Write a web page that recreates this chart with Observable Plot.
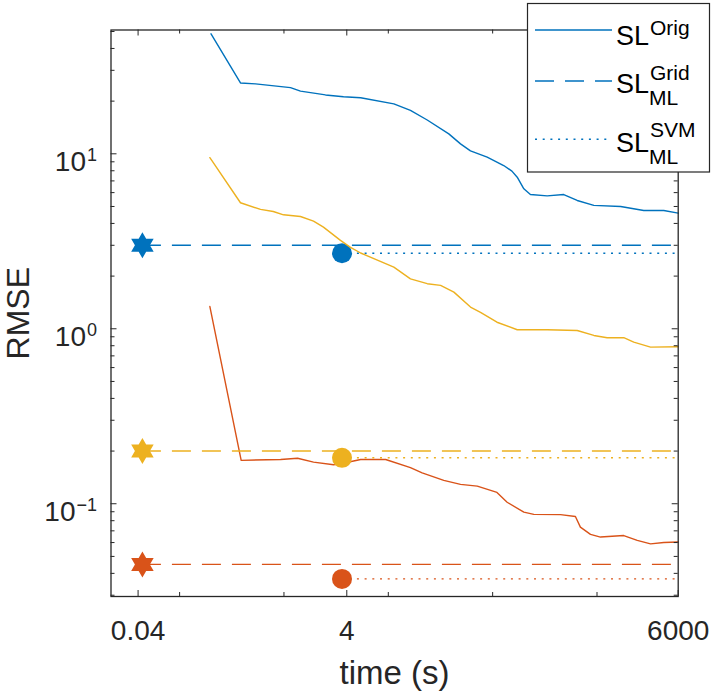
<!DOCTYPE html>
<html><head><meta charset="utf-8">
<script src="https://cdn.jsdelivr.net/npm/d3@7"></script>
<script src="https://cdn.jsdelivr.net/npm/@observablehq/plot@0.6"></script>
<style>
body{margin:0;background:#fff;}
#chart{position:relative;width:714px;height:696px;}
</style></head><body><div id="chart"></div>
<script>
// ---- data ----
const seriesNames = ["Blue", "Red", "Yellow"];
const seriesColors = ["#0072BD", "#D95319", "#EDB120"];

const blueTime = [0.2, 0.383, 0.534, 1.155, 1.44, 2.5, 3.72, 5.43, 11.3, 16.3, 23.6, 38.0, 49.2, 61.3, 88.6, 127.6, 153, 172, 199, 230, 333, 480, 646, 932, 1685, 2805, 4364, 6000];
const blueRMSE = [48.5, 25.4, 25.1, 23.9, 22.8, 21.7, 21.2, 20.9, 19.3, 17.7, 15.6, 13.0, 11.4, 10.4, 9.56, 8.57, 7.96, 7.35, 6.31, 5.85, 5.75, 5.85, 5.41, 5.07, 5.0, 4.74, 4.74, 4.58];

const redTime = [0.195, 0.389, 0.929, 1.35, 1.92, 2.99, 3.98, 5.43, 9.43, 16.3, 21.1, 34.0, 49.2, 71.2, 110, 137.6, 199, 248, 447, 621, 693, 866, 1080, 1805, 2430, 3260, 4364, 6000];
const redRMSE = [1.34, 0.177, 0.179, 0.182, 0.173, 0.167, 0.172, 0.179, 0.179, 0.161, 0.150, 0.136, 0.129, 0.126, 0.116, 0.102, 0.0895, 0.0869, 0.0866, 0.0846, 0.0735, 0.0668, 0.0645, 0.0658, 0.0617, 0.059, 0.060, 0.0604];

const yellowTime = [0.195, 0.383, 0.596, 0.79, 0.99, 1.44, 1.92, 2.39, 3.48, 4.34, 5.43, 11.3, 16.3, 23.6, 31.7, 42.5, 61.3, 76.5, 110, 172, 333, 646, 932, 1251, 1805, 2250, 3260, 6000];
const yellowRMSE = [9.5, 5.25, 4.81, 4.68, 4.48, 4.38, 4.12, 3.81, 3.2, 2.92, 2.71, 2.25, 1.93, 1.81, 1.77, 1.62, 1.33, 1.24, 1.09, 0.987, 0.987, 0.977, 0.916, 0.889, 0.889, 0.838, 0.785, 0.79];

const gridTime = 0.044;          // star markers (SL_ML^Grid)
const gridRMSE = [3.0, 0.045, 0.2];
const svmTime = 3.6;             // circle markers (SL_ML^SVM)
const svmRMSE = [2.7, 0.0372, 0.183];
const xEnd = 6000;

const xMajorTicks = [0.04, 4, 6000];
const xMinorTicks = [0.1, 1, 10, 100, 1000];
const yMajorTicks = [0.1, 1, 10];
const yMinorTicks = [0.03, 0.04, 0.05, 0.06, 0.07, 0.08, 0.09, 0.2, 0.3, 0.4, 0.5, 0.6, 0.7, 0.8, 0.9, 2, 3, 4, 5, 6, 7, 8, 9, 20, 30, 40, 50];

const legendBase = ["SL", "SL", "SL"];
const legendSup = ["Orig", "Grid", "SVM"];
const legendSub = ["", "ML", "ML"];

// ---- layout ----
const W = 714, H = 696;
const mL = 110.5, mR = 36.3, mT = 29.5, mB = 100;
const frameW = W - mL - mR, frameH = H - mT - mB;
const axisColor = "#262626";
const font = "'Liberation Sans', Arial, Helvetica, sans-serif";

const hexagram = {
  draw(ctx, size) {
    const R = Math.sqrt(size / Math.PI), r = R / Math.sqrt(3);
    for (let i = 0; i < 12; i++) {
      const a = -Math.PI / 2 + i * Math.PI / 6;
      const rr = i % 2 === 0 ? R : r;
      const x = rr * Math.cos(a), y = rr * Math.sin(a);
      if (i === 0) ctx.moveTo(x, y); else ctx.lineTo(x, y);
    }
    ctx.closePath();
  }
};

const times = [blueTime, redTime, yellowTime];
const rmses = [blueRMSE, redRMSE, yellowRMSE];

const marks = [];
seriesNames.forEach((name, i) => {
  const color = seriesColors[i];
  const rows = times[i].map((t, j) => ({t, v: rmses[i][j]}));
  marks.push(Plot.line(rows, {x: "t", y: "v", stroke: color, strokeWidth: 1.4}));
  marks.push(Plot.ruleY([{v: gridRMSE[i]}], {y: "v", x1: () => gridTime, x2: () => xEnd, stroke: color, strokeWidth: 1.4, strokeDasharray: "19,11"}));
  marks.push(Plot.ruleY([{v: svmRMSE[i]}], {y: "v", x1: () => svmTime, x2: () => xEnd, stroke: color, strokeWidth: 1.4, strokeDasharray: "2,5.7"}));
  marks.push(Plot.dot([{t: gridTime, v: gridRMSE[i]}], {x: "t", y: "v", symbol: hexagram, r: 13, fill: color, stroke: "none"}));
  marks.push(Plot.dot([{t: svmTime, v: svmRMSE[i]}], {x: "t", y: "v", r: 10, fill: color, stroke: "none"}));
});

// ticks (inward, mirrored)
const tk = (len) => frameH - len, tkw = (len) => frameW - len;
marks.push(
  Plot.tickX(xMajorTicks, {x: d => d, insetTop: tk(6), stroke: axisColor, strokeWidth: 1}),
  Plot.tickX(xMajorTicks, {x: d => d, insetBottom: tk(6), stroke: axisColor, strokeWidth: 1}),
  Plot.tickX(xMinorTicks, {x: d => d, insetTop: tk(4), stroke: axisColor, strokeWidth: 1}),
  Plot.tickX(xMinorTicks, {x: d => d, insetBottom: tk(4), stroke: axisColor, strokeWidth: 1}),
  Plot.tickY(yMajorTicks, {y: d => d, insetRight: tkw(6), stroke: axisColor, strokeWidth: 1}),
  Plot.tickY(yMajorTicks, {y: d => d, insetLeft: tkw(6), stroke: axisColor, strokeWidth: 1}),
  Plot.tickY(yMinorTicks, {y: d => d, insetRight: tkw(4), stroke: axisColor, strokeWidth: 1}),
  Plot.tickY(yMinorTicks, {y: d => d, insetLeft: tkw(4), stroke: axisColor, strokeWidth: 1}),
  Plot.frame({stroke: axisColor, strokeWidth: 1.3}),
  // x tick labels
  Plot.text(xMajorTicks, {x: d => d, frameAnchor: "bottom", lineAnchor: "top", textAnchor: "middle", dy: 24, text: d => String(d), fontSize: 28, fill: axisColor}),
  // y tick labels (exponent added below)
  Plot.axisY(yMajorTicks, {tickSize: 0, tickPadding: 14, dy: 8, tickFormat: d => "10^" + Math.round(Math.log10(d)), fontSize: 28, label: null, fill: axisColor}),
  Plot.text(["RMSE"], {frameAnchor: "left", textAnchor: "middle", dx: -92, rotate: -90, fontSize: 32, text: d => d, fill: axisColor}),
  Plot.text(["time (s)"], {frameAnchor: "bottom", textAnchor: "middle", dy: 87, fontSize: 33, text: d => d, fill: axisColor})
);

const svg = Plot.plot({
  width: W, height: H,
  marginLeft: mL, marginRight: mR, marginTop: mT, marginBottom: mB,
  x: {type: "log", domain: [0.022, xEnd], axis: null},
  y: {type: "log", domain: [0.0295, 51]},
  style: {fontFamily: font, background: "#fff", color: axisColor, overflow: "visible"},
  marks
});

// superscript exponents on y tick labels
d3.select(svg).selectAll('g[aria-label="y-axis tick label"] text').each(function () {
  const s = this.textContent;
  const [b, e] = s.split("^");
  const el = d3.select(this);
  el.text(null);
  el.append("tspan").text(b);
  el.append("tspan").attr("font-size", 18).attr("dy", -10).attr("dx", 1).text(e.replace("-", "\u2212"));
});

// legend
const lg = d3.select(svg).append("g").attr("font-family", font).attr("text-anchor", "start");
lg.append("rect").attr("x", 527.5).attr("y", 3.5).attr("width", 182).attr("height", 168.5)
  .attr("fill", "#fff").attr("stroke", axisColor).attr("stroke-width", 1.2);
const lineY = [30, 81, 139.3];
const baseY = [45, 92.7, 151.7];
const supDy = [-10, -12.7, -15];
const dashes = [null, "19,11", "2,5.7"];
legendSup.forEach((sup, i) => {
  lg.append("line").attr("x1", 535).attr("x2", 612).attr("y1", lineY[i]).attr("y2", lineY[i])
    .attr("stroke", seriesColors[0]).attr("stroke-width", 1.4).attr("stroke-dasharray", dashes[i]);
  const t = lg.append("text").attr("x", 616).attr("y", baseY[i]).attr("font-size", 27).attr("fill", "#000");
  t.append("tspan").text(legendBase[i]);
  t.append("tspan").attr("font-size", 21).attr("dy", supDy[i]).attr("dx", 1).text(sup);
  if (legendSub[i]) {
    t.append("tspan").attr("font-size", 21).attr("x", 649).attr("y", baseY[i] + 12.3).text(legendSub[i]);
  }
});

document.getElementById("chart").appendChild(svg);
</script>
</body></html>
